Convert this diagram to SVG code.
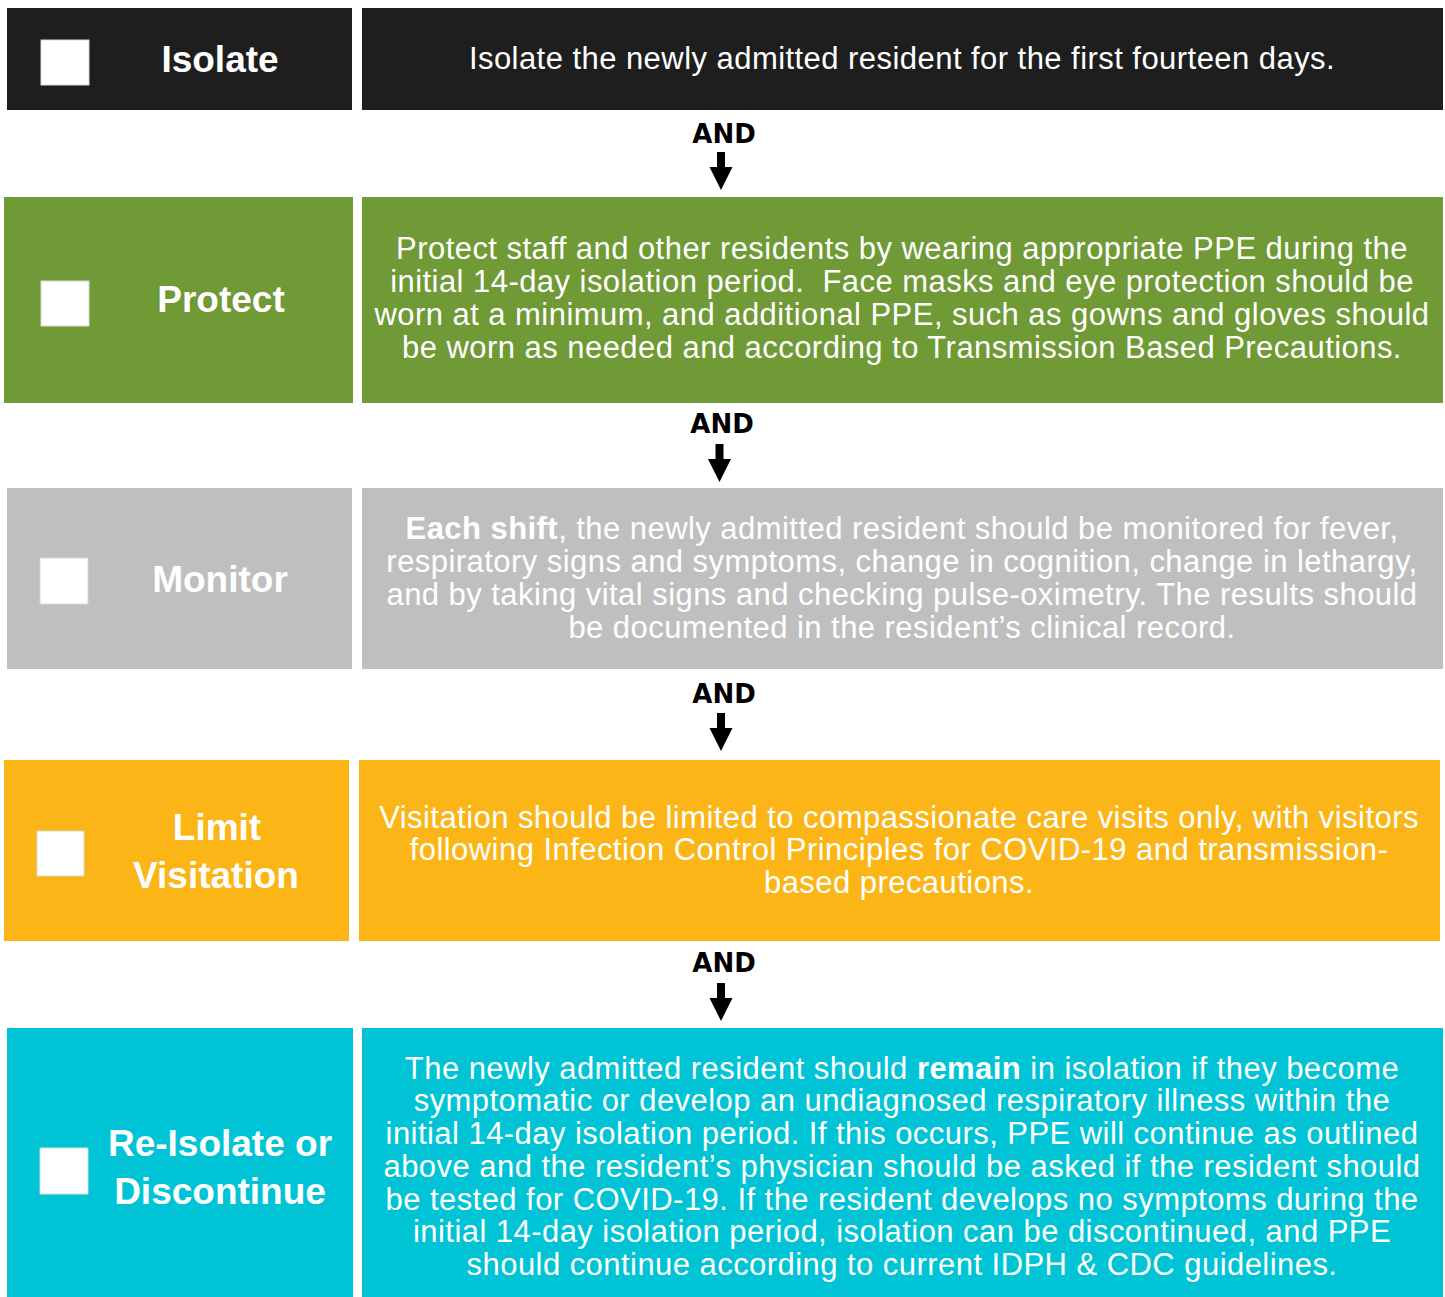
<svg xmlns="http://www.w3.org/2000/svg" width="1445" height="1297" viewBox="0 0 1445 1297">
<style>
.title{font-family:"Liberation Sans",Arial,sans-serif;font-weight:bold;font-size:37px;fill:#fff;text-anchor:middle}
.body{font-family:"Liberation Sans",Arial,sans-serif;font-size:31px;letter-spacing:0.45px;fill:#fff;text-anchor:middle}
.and{font-family:"DejaVu Sans",Verdana,sans-serif;font-weight:bold;font-size:26px;fill:#000;text-anchor:middle}
.cb{fill:#fff;stroke:#d8d8d8;stroke-width:1}
.conn{stroke:#000;stroke-width:8;fill:none}
</style>
<defs>
<marker id="ah" markerUnits="userSpaceOnUse" markerWidth="24" markerHeight="24" refX="0" refY="11.5" orient="auto">
<path d="M0,0 L23,11.5 L0,23 z" fill="#000"/>
</marker>
</defs>
<rect width="1445" height="1297" fill="#fff"/>

<g id="isolate">
<rect x="7" y="8" width="345" height="102" fill="#1e1e1e"/>
<rect class="cb" x="41" y="40" width="48" height="45"/>
<text class="title" x="220" y="72">Isolate</text>
<rect x="362" y="8" width="1081" height="102" fill="#1e1e1e"/>
<text class="body" x="902" y="69">Isolate the newly admitted resident for the first fourteen days.</text>
</g>

<g id="protect">
<rect x="4" y="197" width="349" height="206" fill="#6f9a35"/>
<rect class="cb" x="41" y="281" width="48" height="45"/>
<text class="title" x="221" y="312">Protect</text>
<rect x="362" y="197" width="1081" height="206" fill="#6f9a35"/>
<text class="body" x="902"><tspan x="902" y="259">Protect staff and other residents by wearing appropriate PPE during the</tspan><tspan x="902" y="292">initial 14-day isolation period.&#160; Face masks and eye protection should be</tspan><tspan x="902" y="325">worn at a minimum, and additional PPE, such as gowns and gloves should</tspan><tspan x="902" y="358">be worn as needed and according to Transmission Based Precautions.</tspan></text>
</g>

<g id="monitor">
<rect x="7" y="488" width="345" height="181" fill="#bfbfbf"/>
<rect class="cb" x="40" y="558" width="48" height="46"/>
<text class="title" x="220" y="592">Monitor</text>
<rect x="362" y="488" width="1081" height="181" fill="#bfbfbf"/>
<text class="body" x="902"><tspan x="902" y="539"><tspan font-weight="bold">Each shift</tspan>, the newly admitted resident should be monitored for fever,</tspan><tspan x="902" y="572">respiratory signs and symptoms, change in cognition, change in lethargy,</tspan><tspan x="902" y="605">and by taking vital signs and checking pulse-oximetry. The results should</tspan><tspan x="902" y="638">be documented in the resident’s clinical record.</tspan></text>
</g>

<g id="limit-visitation">
<rect x="4" y="760" width="345" height="181" fill="#fcb516"/>
<rect class="cb" x="37" y="831" width="47" height="45"/>
<text class="title"><tspan x="217" y="840">Limit</tspan><tspan x="216" y="888">Visitation</tspan></text>
<rect x="359" y="760" width="1081" height="181" fill="#fcb516"/>
<text class="body"><tspan x="899" y="828">Visitation should be limited to compassionate care visits only, with visitors</tspan><tspan x="899" y="860">following Infection Control Principles for COVID-19 and transmission-</tspan><tspan x="899" y="893">based precautions.</tspan></text>
</g>

<g id="reisolate">
<rect x="7" y="1028" width="346" height="269" fill="#00c4d6"/>
<rect class="cb" x="40" y="1148" width="48" height="46"/>
<text class="title"><tspan x="220" y="1156">Re-Isolate or</tspan><tspan x="220" y="1204">Discontinue</tspan></text>
<rect x="362" y="1028" width="1081" height="269" fill="#00c4d6"/>
<text class="body"><tspan x="902" y="1079">The newly admitted resident should <tspan font-weight="bold">remain</tspan> in isolation if they become</tspan><tspan x="902" y="1111">symptomatic or develop an undiagnosed respiratory illness within the</tspan><tspan x="902" y="1144">initial 14-day isolation period. If this occurs, PPE will continue as outlined</tspan><tspan x="902" y="1177">above and the resident’s physician should be asked if the resident should</tspan><tspan x="902" y="1210">be tested for COVID-19. If the resident develops no symptoms during the</tspan><tspan x="902" y="1242">initial 14-day isolation period, isolation can be discontinued, and PPE</tspan><tspan x="902" y="1275">should continue according to current IDPH &amp; CDC guidelines.</tspan></text>
</g>

<g id="connectors">
<text class="and" x="724" y="143">AND</text>
<line class="conn" x1="721" y1="152" x2="721" y2="167" marker-end="url(#ah)"/>
<text class="and" x="722" y="433">AND</text>
<line class="conn" x1="719.5" y1="444" x2="719.5" y2="459" marker-end="url(#ah)"/>
<text class="and" x="724" y="703">AND</text>
<line class="conn" x1="721" y1="713" x2="721" y2="728" marker-end="url(#ah)"/>
<text class="and" x="724" y="972">AND</text>
<line class="conn" x1="721" y1="983" x2="721" y2="998" marker-end="url(#ah)"/>
</g>
</svg>
